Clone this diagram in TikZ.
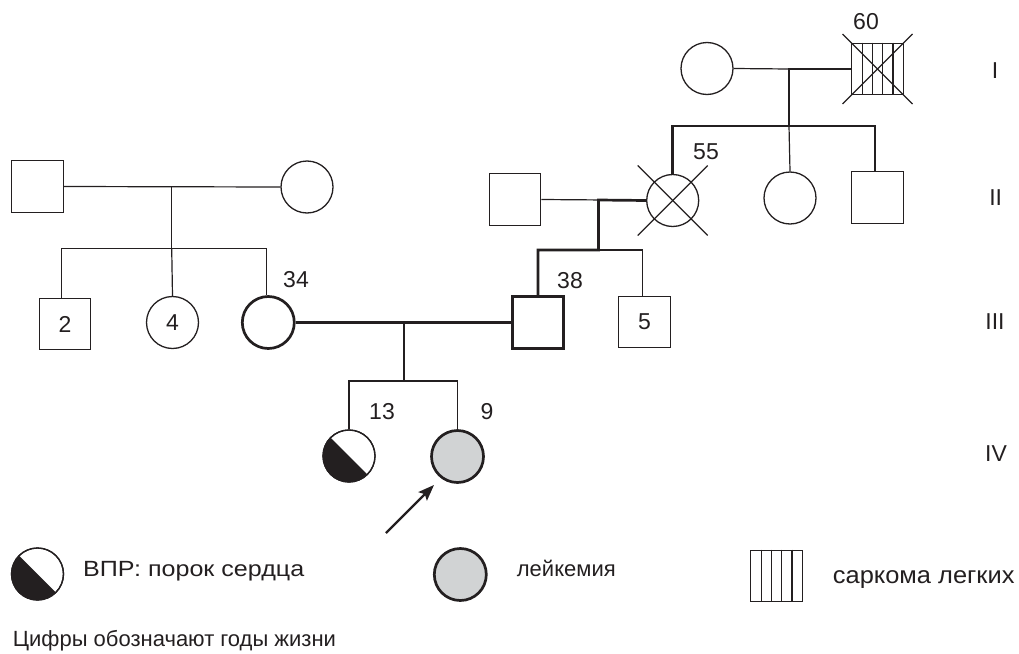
\documentclass[tikz,border=0pt]{standalone}
\usepackage{fontspec}
\setmainfont{Liberation Sans}
\usetikzlibrary{arrows.meta,calc}
\definecolor{ink}{HTML}{231F20}
\definecolor{leukgray}{HTML}{D1D3D4}
\begin{document}
\begin{tikzpicture}[x=1pt,y=-1pt,
  every node/.style={font=\fontsize{22}{26}\selectfont, text=ink},
  fine/.style={draw=ink, line width=1.2pt},
  medium/.style={draw=ink, line width=1.9pt},
  bold/.style={draw=ink, line width=2.7pt},
  male/.style={rectangle, draw=ink, line width=1.3pt, minimum size=51.5pt, inner sep=0pt},
  female/.style={circle, draw=ink, line width=1.3pt, minimum size=52pt, inner sep=0pt},
  proband/.style={line width=2.7pt},
  leuk/.style={fill=leukgray, line width=2.7pt},
  lbl/.style={inner sep=0pt},
  num/.style={inner sep=0pt, font=\fontsize{23}{27}\selectfont},
  pointer/.style={draw=ink, line width=2.2pt, -{Stealth[length=16pt, width=12pt, inset=3pt]}},
]
\useasboundingbox (0,0) rectangle (1019,653);

% ---------- generation I ----------
\node[female] (f1) at (707,68.5) {};
\node[male] (m1) at (877.5,69) {};
\foreach \dx in {-15.45,-5.15,5.15,15.45}
  \draw[draw=ink, line width=1.1pt] ($(m1.north)+(\dx,0)$) -- ($(m1.south)+(\dx,0)$);
\draw[fine] ($(m1)+(-35,-35)$) -- ($(m1)+(35,35)$);
\draw[fine] ($(m1)+(-35,35)$) -- ($(m1)+(35,-35)$);
\node[num] (age60) at (866,21.5) {60};

\coordinate (j1) at (789,69);
\coordinate (s1) at (789,126);
\draw[fine] (f1.east) -- (j1);

% ---------- generation II ----------
\node[male] (h2) at (515,199.5) {};
\node[female] (w2) at (672.7,200.5) {};
\draw[fine] ($(w2)+(-35,-35)$) -- ($(w2)+(35,35)$);
\draw[fine] ($(w2)+(-35,35)$) -- ($(w2)+(35,-35)$);
\node[num] (age55) at (706,151.5) {55};
\node[female] (sis2) at (790,198) {};
\node[male] (bro2) at (877.5,197.5) {};

\draw[bold, line join=miter] (m1.west) -- (j1) -- (s1) -- (s1 -| w2) -- (w2.north);
\draw[fine] (s1) -- (sis2.north);
\draw[fine] (s1) -- ($(s1 -| bro2)+(-2.5,0)$) -- ($(bro2.north)+(-2.5,0)$);

\coordinate (j2) at (598.5,200);
\coordinate (s2) at (598.5,250);
\draw[fine] (h2.east) -- ($(j2)+(8,0)$);

% ---------- left family ----------
\node[male] (gm) at (37.5,186.5) {};
\node[female] (gf) at (307,187) {};
\coordinate (j0) at (171.7,186.8);
\coordinate (s0) at (171.7,248.5);
\draw[fine] (gm.east) -- (gf.west);
\draw[fine] (j0) -- (s0);

% ---------- generation III ----------
\node[male, num, line width=1.3pt] (c2) at (65,324) {2};
\node[female, num, line width=1.3pt] (c4) at (172.5,322.5) {4};
\node[female, proband] (c34) at (268.3,322.5) {};
\node[num] (age34) at (296,280) {34};
\node[male, proband] (h3) at (538,322.5) {};
\node[num] (age38) at (570,281) {38};
\node[male, num, line width=1.3pt] (c5) at (644.5,322) {5};

\draw[fine] ($(c2.north)+(-3.5,0)$) -- ($(s0 -| c2)+(-3.5,0)$) -- ($(s0 -| c34)+(-1.6,0)$) -- ($(c34.north)+(-1.6,0)$);
\draw[fine] (s0) -- (c4.north);
\draw[bold, line join=miter] (w2.west) -- (j2) -- (s2) -- (s2 -| h3) -- (h3.north);
\draw[fine] (s2) -- ($(s2 -| c5)+(-1.8,0)$) -- ($(c5.north)+(-1.8,0)$);

\coordinate (j3) at (404,322.5);
\coordinate (s3) at (404,381);
\draw[bold] (c34.east) -- (h3.west);

% ---------- generation IV ----------
\node[female] (c13) at (349,456) {};
\fill[ink] ($(c13)+(45:26)$) arc[start angle=45, end angle=225, radius=26] -- cycle;
\node[female] at (c13) {};
\node[female, leuk] (g9) at (457.5,456.5) {};
\node[num] (age13) at (382,411.5) {13};
\node[num] (age9) at (487,411.5) {9};

\draw[medium] (j3) -- (s3);
\draw[medium, line join=miter] (c13.north) -- (s3 -| c13) -- (s3 -| g9) -- (g9.north);

\coordinate (arrowtail) at (386,533);
\coordinate (arrowtip) at (434,485);
\draw[pointer] (arrowtail) -- (arrowtip);

% ---------- generation numbers ----------
\node[num] (genI) at (995,71) {I};
\node[num] (genII) at (995.7,198) {II};
\node[num] (genIII) at (995,321.7) {III};
\node[num] (genIV) at (996,454) {IV};

% ---------- legend ----------
\node[female] (key1) at (37.5,574) {};
\fill[ink] ($(key1)+(45:26)$) arc[start angle=45, end angle=225, radius=26] -- cycle;
\node[female] at (key1) {};
\node[lbl, anchor=base west] (key1txt) at (83,576.7) {\scalebox{1.14}[1]{ВПР: порок сердца}};

\node[female, leuk] (key2) at (460.3,574.5) {};
\node[lbl, anchor=base west] (key2txt) at (516.7,576.7) {лейкемия};

\node[male] (key3) at (776.5,576) {};
\foreach \dx in {-15.45,-5.15,5.15,15.45}
  \draw[draw=ink, line width=1.1pt] ($(key3.north)+(\dx,0)$) -- ($(key3.south)+(\dx,0)$);
\node[lbl, anchor=base west, font=\fontsize{24}{28}\selectfont] (key3txt) at (832.7,583.3) {\scalebox{1.06}[1]{саркома легких}};

\node[lbl, anchor=base west] (note) at (12.7,646.7) {Цифры обозначают годы жизни};
\end{tikzpicture}
\end{document}
